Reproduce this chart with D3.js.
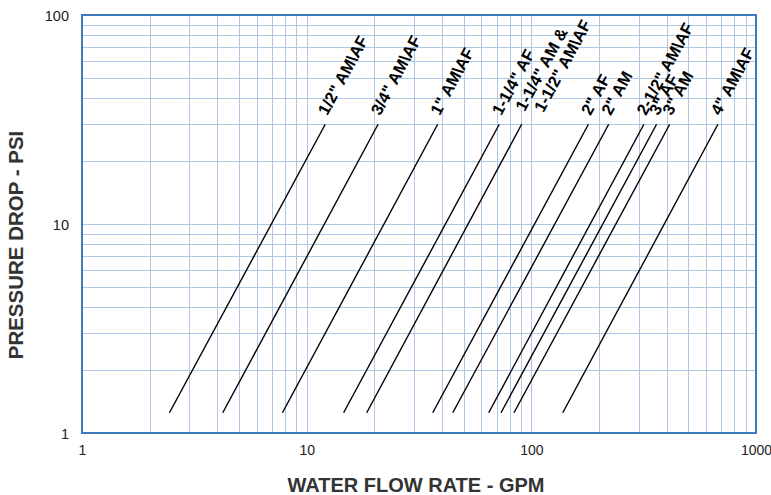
<!DOCTYPE html>
<html>
<head>
<meta charset="utf-8">
<script src="https://cdn.jsdelivr.net/npm/d3@7/dist/d3.min.js"></script>
<style>
  html, body { margin: 0; padding: 0; background: #ffffff; }
  svg { display: block; }
</style>
</head>
<body>
<svg id="chart" width="771" height="495"></svg>
<script>
// ---------- DATA ----------
const seriesLabels = [
  ['1/2" AM\\AF'],
  ['3/4" AM\\AF'],
  ['1" AM\\AF'],
  ['1-1/4" AF'],
  ['1-1/4" AM &', '1-1/2" AM\\AF'],
  ['2" AF'],
  ['2" AM'],
  ['2-1/2" AM\\AF'],
  ['3" AF'],
  ['3" AM'],
  ['4" AM\\AF']
];
// flow (GPM) at the low and high end of each line
const flowLow  = [2.45, 4.23, 7.8, 14.6, 18.5, 36.4, 44.7, 64.6, 73.3, 83.7, 138];
const flowHigh = [12.1, 20.8, 38.3, 72.0, 90.6, 179.5, 221, 317, 361, 413, 677];
// pressure drop (PSI) at the low and high end of each line
const pressureEnds = [1.25, 30];
const xTicks = [1, 10, 100, 1000];
const yTicks = [1, 10, 100];
const xTitle = "WATER FLOW RATE - GPM";
const yTitle = "PRESSURE DROP - PSI";

// ---------- LAYOUT ----------
const W = 771, H = 495;
const m = { left: 82, top: 15, right: 15, bottom: 62 };
const svg = d3.select("#chart");
const x = d3.scaleLog().domain([1, 1000]).range([m.left, W - m.right]);
const y = d3.scaleLog().domain([1, 100]).range([H - m.bottom, m.top]);
const font = "'Liberation Sans', Arial, Helvetica, sans-serif";

// minor grid values
const xGrid = [], yGrid = [];
for (let d = 1; d < 1000; d *= 10) for (let k = 2; k <= 10; k++) xGrid.push(d * k);
for (let d = 1; d < 100; d *= 10) for (let k = 2; k <= 10; k++) yGrid.push(d * k);

const grid = svg.append("g");
grid.selectAll("line.vx").data(xGrid.filter(v => v < 1000)).enter().append("line")
  .attr("x1", d => Math.round(x(d)) + 0.5).attr("x2", d => Math.round(x(d)) + 0.5)
  .attr("y1", y(100)).attr("y2", y(1))
  .attr("stroke", "#aec7e6").attr("stroke-width", 1);
grid.selectAll("line.hy").data(yGrid.filter(v => v < 100)).enter().append("line")
  .attr("y1", d => Math.round(y(d)) + 0.5).attr("y2", d => Math.round(y(d)) + 0.5)
  .attr("x1", x(1)).attr("x2", x(1000))
  .attr("stroke", "#aec7e6").attr("stroke-width", 1);

// frame
svg.append("rect")
  .attr("x", x(1)).attr("y", y(100))
  .attr("width", x(1000) - x(1)).attr("height", y(1) - y(100))
  .attr("fill", "none").attr("stroke", "#3c7cbd").attr("stroke-width", 2);

// axes (tick labels only)
const xAxis = d3.axisBottom(x).tickValues(xTicks).tickFormat(d3.format("d")).tickSize(0).tickPadding(0);
const gx = svg.append("g").attr("transform", `translate(0,${H - m.bottom})`).call(xAxis);
gx.select(".domain").remove();
gx.selectAll("text").attr("dy", null).attr("y", 22)
  .attr("font-family", font).attr("font-size", 14).attr("fill", "#222");

const yAxis = d3.axisLeft(y).tickValues(yTicks).tickFormat(d3.format("d")).tickSize(0).tickPadding(0);
const gy = svg.append("g").attr("transform", `translate(${m.left - 13},0)`).call(yAxis);
gy.select(".domain").remove();
gy.selectAll("text").attr("dy", "0.36em")
  .attr("font-family", font).attr("font-size", 14.5).attr("fill", "#222");

// series lines
const series = seriesLabels.map((lab, i) => ({
  lab, pts: [[flowLow[i], pressureEnds[0]], [flowHigh[i], pressureEnds[1]]]
}));
const line = d3.line().x(d => x(d[0])).y(d => y(d[1]));
svg.append("g").selectAll("path").data(series).enter().append("path")
  .attr("d", d => line(d.pts))
  .attr("fill", "none").attr("stroke", "#000").attr("stroke-width", 1.4);

// labels
const lg = svg.append("g");
series.forEach(s => {
  const x0 = x(s.pts[0][0]), y0 = y(s.pts[0][1]);
  const x1 = x(s.pts[1][0]), y1 = y(s.pts[1][1]);
  const ang = Math.atan2(y1 - y0, x1 - x0) * 180 / Math.PI;
  const t = lg.append("text")
    .attr("transform", `translate(${x1},${y1}) rotate(${ang})`)
    .attr("font-family", font).attr("font-weight", "bold")
    .attr("font-size", 16.5).attr("fill", "#000");
  if (s.lab.length === 1) {
    t.append("tspan").attr("x", 8).attr("y", -2).text(s.lab[0]);
  } else {
    t.append("tspan").attr("x", 12).attr("y", -3).text(s.lab[0]);
    t.append("tspan").attr("x", 20).attr("y", 14).text(s.lab[1]);
  }
});

// titles
svg.append("text")
  .attr("x", (x(1) + x(1000)) / 2 - 3).attr("y", 492)
  .attr("text-anchor", "middle")
  .attr("font-family", font).attr("font-weight", "bold").attr("font-size", 20)
  .attr("fill", "#333").text(xTitle);

svg.append("text")
  .attr("transform", `translate(23,245) rotate(-90)`)
  .attr("text-anchor", "middle")
  .attr("font-family", font).attr("font-weight", "bold").attr("font-size", 20.5)
  .attr("fill", "#333").text(yTitle);
</script>
</body>
</html>
